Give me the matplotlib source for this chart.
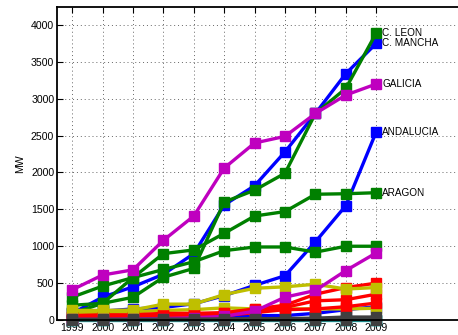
import matplotlib
matplotlib.use("Agg")
import matplotlib.pyplot as plt

plt.rcParams['font.family'] = ['Liberation Sans', 'DejaVu Sans']

years = [1999, 2000, 2001, 2002, 2003, 2004, 2005, 2006, 2007, 2008, 2009]

# Installed wind power by region (MW)
c_mancha  = [90, 310, 450, 620, 900, 1560, 1820, 2280, 2800, 3340, 3750]
andalucia = [110, 120, 150, 170, 220, 330, 470, 600, 1060, 1550, 2550]
blue_low  = [10, 10, 10, 15, 20, 30, 60, 60, 90, 140, 180]

c_leon    = [90, 226, 308, 580, 700, 1600, 1760, 1990, 2800, 3140, 3890]
aragon    = [200, 226, 575, 900, 950, 1175, 1410, 1470, 1705, 1712, 1726]
green_mid = [310, 460, 575, 685, 790, 940, 990, 990, 920, 1000, 1000]

red_a = [60, 70, 70, 90, 90, 100, 150, 200, 350, 440, 500]
red_b = [40, 50, 50, 60, 70, 90, 140, 170, 260, 275, 350]
red_c = [20, 30, 30, 40, 50, 60, 100, 140, 150, 180, 230]

cyan_a = [0, 0, 0, 0, 0, 0, 0, 0, 0, 0, 0]
cyan_b = [2, 2, 2, 2, 3, 3, 4, 4, 5, 5, 5]

galicia      = [410, 610, 680, 1080, 1410, 2060, 2400, 2490, 2800, 3050, 3200]
magenta_low  = [10, 10, 15, 20, 30, 50, 120, 310, 400, 670, 910]

yellow_a = [130, 130, 135, 215, 215, 345, 430, 450, 485, 420, 440]
yellow_b = [100, 100, 110, 130, 140, 165, 150, 150, 150, 150, 160]

gray_a = [10, 10, 10, 12, 12, 15, 18, 20, 25, 40, 40]
gray_b = [0, 0, 0, 0, 0, 0, 0, 0, 2, 3, 3]

labels = [("C. LEON", c_leon), ("C. MANCHA", c_mancha), ("GALICIA", galicia),
          ("ANDALUCIA", andalucia), ("ARAGON", aragon)]

BLUE = '#0000FF'
GREEN = '#008000'
RED = '#FF0000'
CYAN = '#00BFBF'
MAGENTA = '#BF00BF'
YELLOW = '#BFBF00'
GRAY = '#404040'

series = [
    (cyan_a, CYAN), (cyan_b, CYAN),
    (c_mancha, BLUE), (andalucia, BLUE), (blue_low, BLUE),
    (aragon, GREEN), (green_mid, GREEN), (c_leon, GREEN),
    (yellow_b, YELLOW),
    (red_c, RED), (red_b, RED), (red_a, RED),
    (yellow_a, YELLOW),
    (magenta_low, MAGENTA), (galicia, MAGENTA),
    (gray_b, GRAY), (gray_a, GRAY),
]

fig = plt.figure(figsize=(4.58, 3.35), dpi=100)
ax = fig.add_axes([57 / 458, 1 - 320 / 335, 1 - 57 / 458, 313 / 335])

for vals, col in series:
    ax.plot(years, vals, color=col, lw=2.4, marker='s', ms=6.5,
            mfc=col, mec=col, clip_on=False, solid_joinstyle='miter')

for name, vals in labels:
    ax.text(years[-1] + 0.2, vals[-1], name, fontsize=7.2,
            ha='left', va='center', color='black')

ax.set_xlim(1998.5, 1998.5 + 401 / 30.4)
ax.set_ylim(0, 4244)
ax.set_xticks(years)
ax.set_xticklabels([str(y) for y in years])
ax.set_yticks(range(0, 4001, 500))
ax.set_ylabel('MW', fontsize=7.6, labelpad=4)

ax.grid(True, linestyle=(0, (1, 3)), color='0.4', lw=0.7)
ax.set_axisbelow(True)
ax.tick_params(direction='in', length=4, width=0.8, labelsize=7.6,
               top=True, right=False, pad=2)
ax.spines['right'].set_visible(False)
for s in ('left', 'top', 'bottom'):
    ax.spines[s].set_linewidth(1.3)
    ax.spines[s].set_zorder(5)

fig.savefig('out.png', dpi=100)
